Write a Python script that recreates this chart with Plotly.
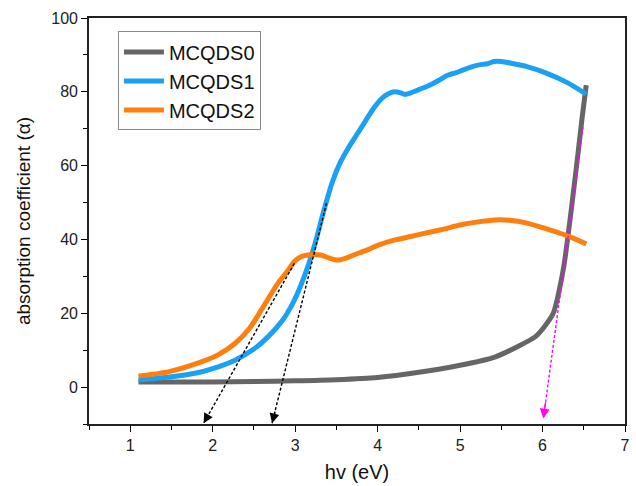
import plotly.graph_objects as go

# Absorption spectra of the three samples
x_s0 = [1.1, 1.5, 2.0, 2.5, 3.0, 3.5, 4.0, 4.5, 5.0, 5.43, 5.7, 5.91, 6.02, 6.13, 6.2, 6.26, 6.31, 6.37, 6.43, 6.48, 6.53]
y_s0 = [1.4, 1.4, 1.4, 1.5, 1.7, 2.0, 2.6, 4.0, 5.9, 8.2, 11.0, 13.6, 16.3, 20.0, 26.0, 33.0, 41.2, 52.0, 63.3, 73.0, 81.8]

x_s1 = [1.1, 1.5, 1.8, 2.0, 2.27, 2.5, 2.67, 2.85, 2.95, 3.03, 3.11, 3.23, 3.35, 3.45, 3.55, 3.65, 3.75, 3.85, 3.95,
        4.05, 4.13, 4.21, 4.28, 4.33, 4.41, 4.5, 4.63, 4.75, 4.83, 4.95, 5.03, 5.13, 5.23, 5.33, 5.41, 5.5,
        5.63, 5.8, 6.03, 6.3, 6.53]
y_s1 = [1.9, 2.8, 3.8, 5.0, 7.3, 10.3, 13.6, 18.2, 21.8, 25.5, 29.9, 38.0, 48.0, 55.5, 61.0, 65.0, 68.5, 72.0, 75.5,
        78.2, 79.5, 80.0, 79.7, 79.3, 79.8, 80.6, 81.8, 83.2, 84.3, 85.2, 85.9, 86.7, 87.3, 87.6, 88.2, 88.2,
        87.7, 86.9, 85.2, 82.5, 79.4]

x_s2 = [1.1, 1.47, 1.87, 2.07, 2.27, 2.45, 2.59, 2.79, 2.92, 2.99, 3.07, 3.15, 3.23, 3.31, 3.41, 3.51, 3.61,
        3.71, 3.87, 4.0, 4.2, 4.4, 4.6, 4.8, 5.0, 5.2, 5.43, 5.6, 5.8, 6.03, 6.31, 6.53]
y_s2 = [3.0, 4.2, 6.9, 8.8, 11.8, 16.0, 20.9, 28.1, 31.8, 34.0, 35.3, 35.8, 35.9, 35.8, 35.0, 34.4, 34.9,
        35.8, 37.1, 38.4, 39.8, 40.8, 41.8, 42.8, 43.9, 44.7, 45.3, 45.2, 44.5, 43.0, 40.9, 38.8]

series_names = ["MCQDS0", "MCQDS1", "MCQDS2"]
series_colors = ["#666666", "#1AA0F4", "#FF7F0E"]

# Tangent extrapolations to the energy axis (band-gap estimates)
tan_x0 = [2.99, 3.38, 6.49]
tan_y0 = [33.5, 49.8, 70.5]
gap_ev = [1.89, 2.72, 6.01]
gap_y = [-9.8, -9.8, -8.5]
tan_colors = ["black", "black", "#FF00FF"]

fig = go.Figure()

for xs, ys, name, col in zip([x_s0, x_s1, x_s2], [y_s0, y_s1, y_s2], series_names, series_colors):
    fig.add_trace(go.Scatter(x=xs, y=ys, mode="lines", name=name,
                             line=dict(color=col, width=5, shape="spline", smoothing=0.7)))

for x0, y0, xg, yg, col in zip(tan_x0, tan_y0, gap_ev, gap_y, tan_colors):
    fig.add_trace(go.Scatter(x=[x0, xg], y=[y0, yg], mode="lines", showlegend=False,
                             line=dict(color=col, width=1.4, dash="3px,2px")))
    # arrowhead only: tail sits a short step back along the line
    fig.add_annotation(x=xg, y=yg, ax=xg + (x0 - xg) * 0.06, ay=yg + (y0 - yg) * 0.06,
                       xref="x", yref="y", axref="x", ayref="y", text="", showarrow=True,
                       arrowhead=2, arrowsize=1.4, arrowwidth=1.4, arrowcolor=col)

axis_font = dict(family="Liberation Sans, Arial", size=16, color="#222222")
title_font = dict(family="Liberation Sans, Arial", color="#111111")

fig.update_layout(
    width=636, height=486,
    margin=dict(l=89, r=6, t=18, b=62),
    paper_bgcolor="white", plot_bgcolor="white",
    font=dict(family="Liberation Sans, Arial", color="#111111"),
    showlegend=True,
    legend=dict(x=0.054, y=0.967, xanchor="left", yanchor="top",
                bgcolor="white", bordercolor="#8a8a8a", borderwidth=1,
                font=dict(size=20, family="Liberation Sans, Arial", color="#111111"),
                tracegroupgap=0, itemwidth=40),
    xaxis=dict(range=[0.5, 7], tick0=1, dtick=1, ticks="outside", ticklen=6, tickwidth=1.3,
               tickcolor="black", showline=True, linecolor="#222222", linewidth=1.6, mirror=True,
               showgrid=False, zeroline=False, tickfont=axis_font,
               minor=dict(dtick=0.5, tick0=0.5, ticks="outside", ticklen=4, tickwidth=1.2, tickcolor="black"),
               title=dict(text="hv (eV)", font=dict(size=20, **title_font), standoff=12)),
    yaxis=dict(range=[-10, 100], tick0=0, dtick=20, ticks="outside", ticklen=6, tickwidth=1.3,
               tickcolor="black", showline=True, linecolor="#222222", linewidth=1.6, mirror=True,
               showgrid=False, zeroline=False, tickfont=axis_font,
               minor=dict(dtick=10, tick0=-10, ticks="outside", ticklen=4, tickwidth=1.2, tickcolor="black"),
               title=dict(text="absorption coefficient (α)", font=dict(size=19, **title_font), standoff=16)),
)

fig.write_html("out.html")
